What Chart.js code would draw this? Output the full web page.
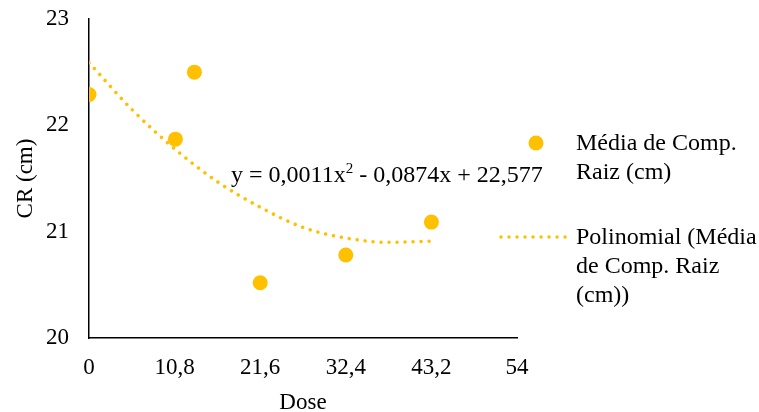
<!DOCTYPE html>
<html>
<head>
<meta charset="utf-8">
<script src="https://cdn.jsdelivr.net/npm/chart.js@4/dist/chart.umd.min.js"></script>
<style>
  html, body { margin: 0; padding: 0; background: #fff; }
  #wrap { position: relative; width: 759px; height: 412px; overflow: hidden; }
  canvas { position: absolute; left: 0; top: 0; }
  .txt { position: absolute; font-family: "Liberation Serif", "Times New Roman", serif; color: #000; white-space: nowrap; }
  .eq { font-size: 24px; line-height: 24px; }
  .leg { font-size: 24px; line-height: 29px; }
</style>
</head>
<body>
<div id="wrap">
  <canvas id="c" width="759" height="412"></canvas>
  <div class="txt eq" style="left:231px; top:162px;">y = 0,0011x<sup style="font-size:15px; vertical-align:9px; line-height:0;">2</sup> - 0,0874x + 22,577</div>
  <div class="txt leg" style="left:576px; top:128px;">Média de Comp.<br>Raiz (cm)</div>
  <div class="txt leg" style="left:576px; top:222px;">Polinomial (Média<br>de Comp. Raiz<br>(cm))</div>
</div>
<script>
// Data
const doses = [0, 10.9, 13.3, 21.6, 32.4, 43.2];
const crMeans = [22.29, 21.87, 22.5, 20.52, 20.78, 21.09];
const trendDoses = [0, 5.4, 10.8, 16.2, 21.6, 27, 32.4, 37.8, 43.2];
const trendCR = [22.59, 22.15, 21.78, 21.47, 21.23, 21.04, 20.94, 20.90, 20.91];
const xTickValues = [0, 10.8, 21.6, 32.4, 43.2, 54];
const xTickLabels = ['0', '10,8', '21,6', '32,4', '43,2', '54'];
const yTickValues = [20, 21, 22, 23];
const yTickLabels = ['20', '21', '22', '23'];
const seriesName = 'Média de Comp. Raiz (cm)';
const trendName = 'Polinomial (Média de Comp. Raiz (cm))';

const GOLD = '#FFC000';
const FONT = "'Liberation Serif', 'Times New Roman', serif";

const legendMarkers = {
  id: 'legendMarkers',
  afterDraw(chart) {
    const ctx = chart.ctx;
    ctx.save();
    ctx.fillStyle = GOLD;
    ctx.beginPath();
    ctx.arc(536, 143, 7.5, 0, Math.PI * 2);
    ctx.fill();
    ctx.strokeStyle = GOLD;
    ctx.lineWidth = 3.5;
    ctx.lineCap = 'round';
    ctx.setLineDash([0.01, 8]);
    ctx.beginPath();
    ctx.moveTo(501, 237);
    ctx.lineTo(570, 237);
    ctx.stroke();
    ctx.restore();
  }
};

new Chart(document.getElementById('c'), {
  type: 'scatter',
  data: {
    datasets: [
      {
        label: trendName,
        data: trendDoses.map((x, i) => ({ x: x, y: trendCR[i] })),
        showLine: true,
        borderColor: GOLD,
        borderWidth: 3.5,
        borderDash: [0.01, 8],
        borderCapStyle: 'round',
        cubicInterpolationMode: 'monotone',
        pointRadius: 0,
        fill: false,
        order: 1
      },
      {
        label: seriesName,
        data: doses.map((x, i) => ({ x: x, y: crMeans[i] })),
        backgroundColor: GOLD,
        borderColor: GOLD,
        pointRadius: 7.5,
        pointBorderWidth: 0,
        showLine: false,
        order: 2
      }
    ]
  },
  options: {
    responsive: false,
    animation: false,
    events: [],
    layout: { padding: { top: 19, right: 242, left: 0, bottom: 0 } },
    plugins: { legend: { display: false }, tooltip: { enabled: false } },
    scales: {
      x: {
        type: 'linear',
        min: 0, max: 54,
        afterBuildTicks: s => { s.ticks = xTickValues.map(v => ({ value: v })); },
        afterFit: s => { s.height = 74; s.paddingLeft = 0; s.paddingRight = 0; },
        grid: { display: false, drawTicks: false },
        border: { display: true, color: '#000', width: 1.5 },
        ticks: {
          padding: 16,
          color: '#000',
          font: { family: FONT, size: 23 },
          maxRotation: 0,
          autoSkip: false,
          callback: (v, i) => xTickLabels[i]
        },
        title: {
          display: true, text: 'Dose', color: '#000',
          font: { family: FONT, size: 23, lineHeight: 1 },
          padding: { top: 0, bottom: -2 }
        }
      },
      y: {
        min: 20, max: 23,
        afterBuildTicks: s => { s.ticks = yTickValues.map(v => ({ value: v })); },
        afterFit: s => { s.width = 89; s.paddingTop = 0; s.paddingBottom = 0; },
        grid: { display: false, drawTicks: false },
        border: { display: true, color: '#000', width: 1.5 },
        ticks: {
          padding: 20,
          color: '#000',
          font: { family: FONT, size: 23 },
          callback: (v, i) => yTickLabels[i]
        },
        title: {
          display: true, text: 'CR (cm)', color: '#000',
          font: { family: FONT, size: 23, lineHeight: 1 },
          padding: { top: 14, bottom: 0 }
        }
      }
    }
  },
  plugins: [legendMarkers]
});
</script>
</body>
</html>
